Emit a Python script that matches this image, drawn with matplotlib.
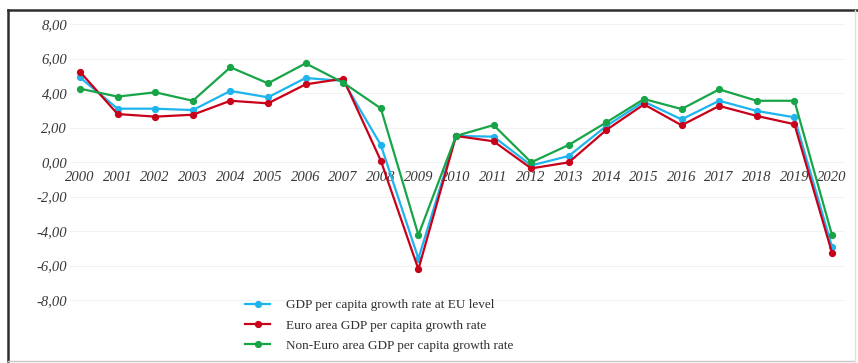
import matplotlib
matplotlib.use("Agg")
import matplotlib.pyplot as plt
from matplotlib.lines import Line2D
from matplotlib import transforms

years = list(range(2000, 2021))
eu_level = [4.90, 3.09, 3.09, 3.01, 4.12, 3.75, 4.87, 4.70, 0.99, -5.60, 1.51,
            1.47, -0.20, 0.35, 2.09, 3.50, 2.47, 3.55, 2.96, 2.59, -4.91]
euro_area = [5.23, 2.78, 2.63, 2.74, 3.55, 3.40, 4.50, 4.83, 0.08, -6.22, 1.51,
             1.20, -0.37, -0.02, 1.86, 3.34, 2.13, 3.25, 2.67, 2.19, -5.26]
non_euro = [4.25, 3.79, 4.04, 3.55, 5.49, 4.56, 5.72, 4.60, 3.11, -4.23, 1.51,
            2.14, -0.02, 0.99, 2.30, 3.65, 3.07, 4.21, 3.55, 3.55, -4.23]
series_labels = ["GDP per capita growth rate at EU level",
                 "Euro area GDP per capita growth rate",
                 "Non-Euro area GDP per capita growth rate"]
y_ticks = [8, 6, 4, 2, 0, -2, -4, -6, -8]
y_tick_labels = ["8,00", "6,00", "4,00", "2,00", "0,00", "-2,00", "-4,00", "-6,00", "-8,00"]

W, H = 858, 363
fig = plt.figure(figsize=(W / 100, H / 100), dpi=100)
fig.patch.set_facecolor("white")

# axes placed in pixel terms
L, R, T, B = 70, 845, 15, 310
ax = fig.add_axes([L / W, 1 - B / H, (R - L) / W, (B - T) / H])
px_per_year = 37.6
ax.set_xlim(2000 + (L - 80) / px_per_year, 2000 + (R - 80) / px_per_year)
ax.set_ylim((162 - B) / 17.25, (162 - T) / 17.25)
for s in ax.spines.values():
    s.set_visible(False)
ax.set_xticks([])
ax.set_yticks(y_ticks)
ax.set_yticklabels(y_tick_labels)
ax.tick_params(axis="y", length=0, pad=2, labelsize=10.5, labelcolor="#383838")
for lab in ax.get_yticklabels():
    lab.set_fontfamily("Liberation Serif")
    lab.set_fontstyle("italic")
for v in y_ticks:
    ax.axhline(v, color="#f2f2f2", lw=0.8, zorder=0)

# year labels sit just below the zero line
off = transforms.offset_copy(ax.transData, fig=fig, x=0, y=-9, units="dots")
for yr in years:
    ax.text(yr, 0, str(yr), transform=off, ha="center", va="top",
            fontsize=10.5, family="Liberation Serif", style="italic", color="#383838")

colors = ["#1eb4ee", "#c8001a", "#17a548"]
for vals, c, lab in zip([eu_level, euro_area, non_euro], colors, series_labels):
    ax.plot(years, vals, color=c, lw=1.6, marker="o", markersize=4.2, label=lab,
            clip_on=False, zorder=3)

leg = ax.legend(loc="upper left", bbox_to_anchor=(245 / W, 1 - 299 / H),
                bbox_transform=fig.transFigure, frameon=False,
                prop={"family": "Liberation Serif", "size": 9.5},
                handlelength=1.9, handletextpad=1.2, labelspacing=0.62,
                borderpad=0, borderaxespad=0)
for t in leg.get_texts():
    t.set_color("#303030")

# frame around the chart object
fig.add_artist(Line2D([8 / W, 1], [1 - 10 / H, 1 - 10 / H], color="#2e2e2e", lw=1.8,
                      transform=fig.transFigure))
fig.add_artist(Line2D([8 / W, 8 / W], [1 - 10 / H, 1 - 361 / H], color="#2e2e2e", lw=1.8,
                      transform=fig.transFigure))
fig.add_artist(Line2D([8 / W, 855 / W], [1 - 361 / H, 1 - 361 / H], color="#c8c8c8", lw=1.0,
                      transform=fig.transFigure))
fig.add_artist(Line2D([855 / W, 855 / W], [1 - 10 / H, 1 - 361 / H], color="#e0e0e0", lw=1.0,
                      transform=fig.transFigure))

fig.savefig("out.png", dpi=100, facecolor="white")
